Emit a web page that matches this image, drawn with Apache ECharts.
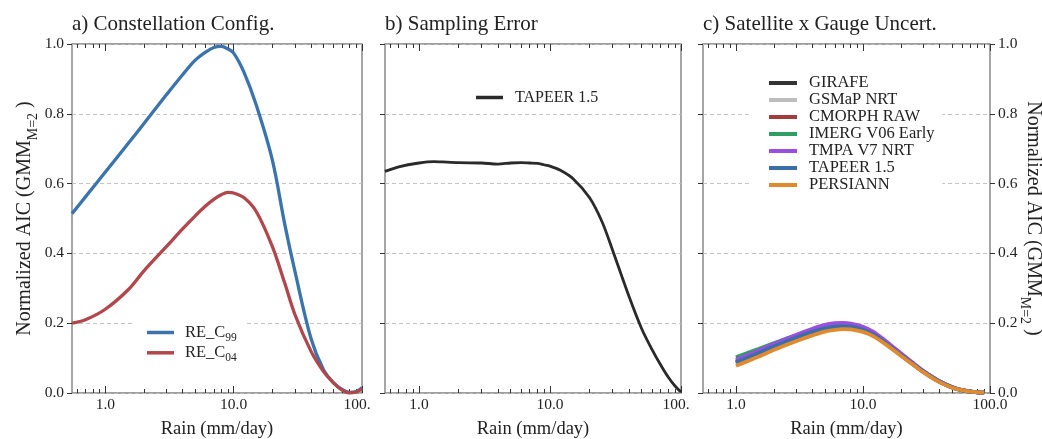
<!DOCTYPE html>
<html><head><meta charset="utf-8">
<script src="https://cdn.jsdelivr.net/npm/echarts@6/dist/echarts.min.js"></script>
<style>html,body{margin:0;padding:0;background:#fff}#c{width:1042px;height:439px}</style>
</head><body><div id="c"></div>
<script>
// ---------- data ----------
const majorTicks = [1, 10, 100];
const minorTicks = [0.6, 0.7, 0.8, 0.9, 2, 3, 4, 5, 6, 7, 8, 9, 20, 30, 40, 50, 60, 70, 80, 90];
const yTicks = [0, 0.2, 0.4, 0.6, 0.8, 1.0];

// panel a
const rainA = [0.55, 0.7, 1, 1.5, 2, 3, 4, 5, 6, 7, 8, 9, 10, 12, 15, 20, 25, 30, 40, 50, 60, 70, 80, 90, 100];
const reC99 = [0.514, 0.562, 0.633, 0.714, 0.772, 0.855, 0.912, 0.953, 0.976, 0.99, 0.993, 0.986, 0.974, 0.92, 0.825, 0.668, 0.484, 0.349, 0.157, 0.067, 0.029, 0.01, 0.002, 0.004, 0.015];
const reC04 = [0.20, 0.21, 0.24, 0.295, 0.35, 0.42, 0.47, 0.507, 0.535, 0.555, 0.568, 0.575, 0.573, 0.56, 0.52, 0.42, 0.315, 0.225, 0.12, 0.062, 0.029, 0.008, 0.0, 0.003, 0.012];
const namesA = ['RE_C99', 'RE_C04'];

// panel b
const rainB = [0.55, 0.7, 1, 1.3, 1.5, 2, 3, 4, 5, 6, 7, 8, 9, 10, 12, 15, 20, 25, 30, 40, 50, 60, 70, 80, 90, 100];
const tapeerB = [0.635, 0.648, 0.659, 0.663, 0.662, 0.66, 0.659, 0.656, 0.659, 0.66, 0.659, 0.658, 0.654, 0.65, 0.638, 0.614, 0.56, 0.49, 0.41, 0.278, 0.185, 0.125, 0.08, 0.045, 0.02, 0.003];
const nameB = 'TAPEER 1.5';

// panel c
const rainC = [1, 1.5, 2, 3, 4, 5, 6, 7, 8, 10, 12, 15, 20, 25, 30, 40, 50, 60, 70, 80, 90];
const girafe   = [0.086, 0.113, 0.133, 0.158, 0.175, 0.185, 0.19, 0.191, 0.19, 0.181, 0.168, 0.143, 0.108, 0.081, 0.06, 0.032, 0.016, 0.008, 0.004, 0.002, 0.001];
const gsmap    = [0.083, 0.11, 0.13, 0.156, 0.173, 0.183, 0.188, 0.189, 0.188, 0.179, 0.166, 0.142, 0.107, 0.08, 0.06, 0.032, 0.016, 0.008, 0.004, 0.002, 0.001];
const cmorph   = [0.09, 0.117, 0.137, 0.162, 0.178, 0.188, 0.193, 0.194, 0.192, 0.183, 0.17, 0.145, 0.109, 0.082, 0.061, 0.033, 0.017, 0.008, 0.004, 0.002, 0.001];
const imerg    = [0.102, 0.126, 0.143, 0.166, 0.181, 0.191, 0.196, 0.197, 0.195, 0.186, 0.172, 0.147, 0.111, 0.083, 0.062, 0.033, 0.017, 0.008, 0.004, 0.002, 0.001];
const tmpa     = [0.095, 0.121, 0.141, 0.167, 0.184, 0.195, 0.2, 0.201, 0.199, 0.19, 0.176, 0.15, 0.113, 0.085, 0.063, 0.034, 0.017, 0.009, 0.004, 0.002, 0.001];
const tapeerC  = [0.088, 0.114, 0.134, 0.159, 0.175, 0.185, 0.19, 0.191, 0.19, 0.181, 0.168, 0.144, 0.109, 0.082, 0.061, 0.033, 0.017, 0.008, 0.004, 0.002, 0.001];
const persiann = [0.078, 0.104, 0.124, 0.149, 0.165, 0.176, 0.181, 0.183, 0.182, 0.175, 0.163, 0.14, 0.106, 0.08, 0.059, 0.031, 0.016, 0.008, 0.004, 0.002, 0.001];
const namesC = ['GIRAFE', 'GSMaP NRT', 'CMORPH RAW', 'IMERG V06 Early', 'TMPA V7 NRT', 'TAPEER 1.5', 'PERSIANN'];
const valuesC = [girafe, gsmap, cmorph, imerg, tmpa, tapeerC, persiann];

const titles = ['a) Constellation Config.', 'b) Sampling Error', 'c) Satellite x Gauge Uncert.'];
const xName = 'Rain (mm/day)';
const yName = 'Normalized AIC (GMM{s|M=2} )';

// ---------- styles ----------
const FONT = 'Liberation Serif';
const colorsA = ['#3b73ad', '#b2474b'];
const colorB = '#2a2a2a';
const colorsC = ['#333333', '#bdbdbd', '#a23b3b', '#2e9e62', '#9b4fe0', '#3a6ea8', '#e08a30'];
const grids = [
  {left: 72, top: 44, width: 290, height: 349},
  {left: 385, top: 44, width: 296, height: 349},
  {left: 703, top: 44, width: 287, height: 349}
];

function xAxesFor(gi, shortLast) {
  const base = {type: 'log', logBase: 10, min: 0.55, max: 100, gridIndex: gi,
    axisLine: {show: false}, splitLine: {show: false}, minorTick: {show: false}};
  const tickStyle = {color: '#333', width: 1};
  const lab = {
    customValues: majorTicks, margin: 4, fontFamily: FONT, fontSize: 15.5, color: '#222',
    formatter: v => (v >= 100 && shortLast) ? '{t|100.}' : Number(v).toFixed(1),
    rich: {t: {fontFamily: FONT, fontSize: 15.5, color: '#222', padding: [0, 10, 0, 0]}}
  };
  return [
    Object.assign({}, base, {position: 'bottom', axisTick: {inside: true, length: 7, customValues: majorTicks, lineStyle: tickStyle}, axisLabel: lab}),
    Object.assign({}, base, {position: 'bottom', axisTick: {inside: true, length: 4, customValues: minorTicks, lineStyle: tickStyle}, axisLabel: {show: false}}),
    Object.assign({}, base, {position: 'top', axisTick: {inside: true, length: 7, customValues: majorTicks, lineStyle: tickStyle}, axisLabel: {show: false}}),
    Object.assign({}, base, {position: 'top', axisTick: {inside: true, length: 4, customValues: minorTicks, lineStyle: tickStyle}, axisLabel: {show: false}})
  ];
}

function yAxisFor(gi, position, showLabel, showSplit) {
  return {
    type: 'value', gridIndex: gi, position: position, min: 0, max: 1, interval: 0.2,
    axisLine: {show: false},
    axisTick: {show: true, inside: false, length: 5, lineStyle: {color: '#333', width: 1}},
    axisLabel: {show: showLabel, margin: 8, fontFamily: FONT, fontSize: 15.5, color: '#222',
      formatter: v => Number(v).toFixed(1)},
    splitLine: {show: showSplit, lineStyle: {color: '#bdbdbd', width: 0.9, type: [4, 3]}}
  };
}

const xAxis = [].concat(xAxesFor(0, true), xAxesFor(1, true), xAxesFor(2, false));
const yAxis = [
  yAxisFor(0, 'left', true, true),
  yAxisFor(1, 'left', false, true),
  yAxisFor(2, 'left', false, true),
  yAxisFor(2, 'right', true, false)
];

const series = [];
[reC99, reC04].forEach((vals, i) => series.push({
  type: 'line', name: namesA[i], xAxisIndex: 0, yAxisIndex: 0, showSymbol: false, symbol: 'none',
  smooth: 0.35, lineStyle: {color: colorsA[i], width: 3.3}, itemStyle: {color: colorsA[i]},
  data: rainA.map((x, j) => [x, vals[j]])
}));
series.push({
  type: 'line', name: nameB, xAxisIndex: 4, yAxisIndex: 1, showSymbol: false, symbol: 'none',
  smooth: 0.3, lineStyle: {color: colorB, width: 2.8}, itemStyle: {color: colorB},
  data: rainB.map((x, j) => [x, tapeerB[j]])
});
valuesC.forEach((vals, i) => series.push({
  type: 'line', name: namesC[i], xAxisIndex: 8, yAxisIndex: 2, showSymbol: false, symbol: 'none',
  smooth: 0.3, lineStyle: {color: colorsC[i], width: 3.8}, itemStyle: {color: colorsC[i]},
  data: rainC.map((x, j) => [x, vals[j]])
}));

const legendText = {fontFamily: FONT, fontSize: 16.5, color: '#222'};
const legend = [
  {
    left: 132, top: 319.5, orient: 'vertical', icon: 'rect', itemWidth: 27, itemHeight: 3.5, itemGap: 0.3,
    padding: [4, 8, 4, 15], backgroundColor: '#fff',
    data: namesA.map((n, i) => ({name: n, itemStyle: {color: colorsA[i]}})),
    formatter: n => n.slice(0, 4) + '{s|' + n.slice(4) + '}',
    textStyle: Object.assign({}, legendText, {lineHeight: 18, padding: [0, 0, 0, 6],
      rich: {s: {fontFamily: FONT, fontSize: 11.5, color: '#222', lineHeight: 18, verticalAlign: 'bottom', padding: [0, 0, -2, 0]}}})
  },
  {
    left: 476, top: 89, orient: 'vertical', icon: 'rect', itemWidth: 27, itemHeight: 3.5, padding: 0,
    data: [{name: nameB, itemStyle: {color: colorB}}],
    textStyle: Object.assign({}, legendText, {fontSize: 16, lineHeight: 17, padding: [0, 0, 0, 7]})
  },
  {
    left: 750, top: 68.5, orient: 'vertical', icon: 'rect', itemWidth: 28, itemHeight: 4, itemGap: 0,
    padding: [6, 8, 6, 19], backgroundColor: '#fff',
    data: namesC.map((n, i) => ({name: n, itemStyle: {color: colorsC[i]}})),
    textStyle: Object.assign({}, legendText, {lineHeight: 16, padding: [0, 0, 0, 7]})
  }
];

const subRich = {s: {fontFamily: FONT, fontSize: 14, fill: '#222', verticalAlign: 'bottom', lineHeight: 24, padding: [0, 0, -3, 0]}};
const graphic = [];
titles.forEach((t, i) => graphic.push({
  type: 'text', x: grids[i].left, y: 24,
  style: {text: t, font: '21px "' + FONT + '"', fill: '#222', align: 'left', verticalAlign: 'middle'}
}));
grids.forEach((g, i) => graphic.push({
  type: 'text', x: g.left + g.width / 2, y: 429,
  style: {text: xName, font: '18.5px "' + FONT + '"', fill: '#222', align: 'center', verticalAlign: 'middle'}
}));
graphic.push({
  type: 'text', x: 25, y: 218.5, rotation: Math.PI / 2,
  style: {text: yName, font: '20px "' + FONT + '"', fill: '#222', align: 'center', verticalAlign: 'middle', lineHeight: 24, rich: subRich}
});
graphic.push({
  type: 'text', x: 1033, y: 218.5, rotation: -Math.PI / 2,
  style: {text: yName, font: '20px "' + FONT + '"', fill: '#222', align: 'center', verticalAlign: 'middle', lineHeight: 24, rich: subRich}
});

const chart = echarts.init(document.getElementById('c'), null, {renderer: 'canvas'});
chart.setOption({
  animation: false,
  backgroundColor: '#fff',
  textStyle: {fontFamily: FONT},
  grid: grids.map(g => Object.assign({show: true, borderColor: '#808080', borderWidth: 1.4, backgroundColor: 'transparent', containLabel: false}, g)),
  xAxis: xAxis,
  yAxis: yAxis,
  legend: legend,
  series: series,
  graphic: graphic
});
</script>
</body></html>
